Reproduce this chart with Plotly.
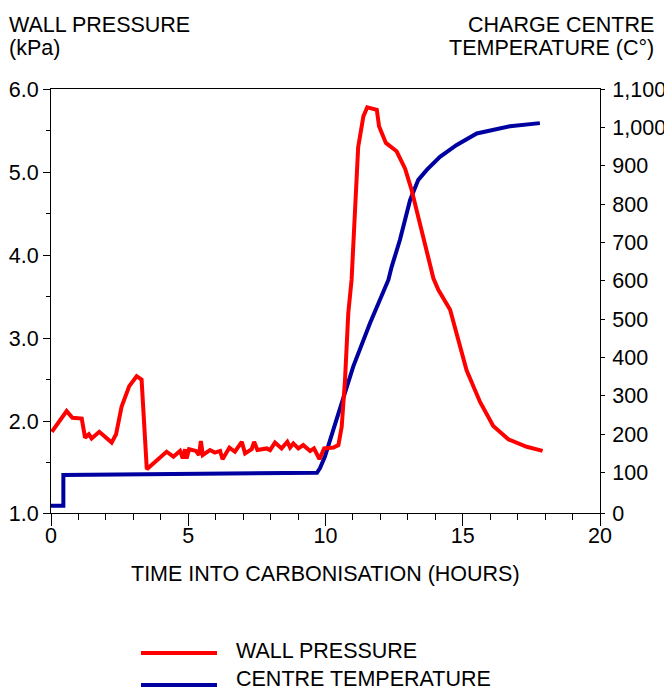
import plotly.graph_objects as go

# ---------------- data ----------------
press_time = [0.03, 0.57, 0.78, 1.12, 1.24, 1.38, 1.48, 1.76, 2.21, 2.37, 2.57, 2.85, 3.12, 3.30,
              3.49, 4.21, 4.46, 4.70, 4.80, 4.88, 4.94, 5.03, 5.28, 5.39, 5.46, 5.53, 5.79, 5.97,
              6.16, 6.25, 6.50, 6.70, 6.95, 7.07, 7.31, 7.40, 7.52, 7.86, 7.98, 8.16, 8.40, 8.61,
              8.71, 8.83, 9.01, 9.19, 9.44, 9.58, 9.78, 9.95, 10.29, 10.47, 10.59, 10.71, 10.83,
              10.95, 11.19, 11.38, 11.52, 11.87, 11.95, 12.20, 12.59, 12.90, 13.14, 13.44, 13.93,
              14.11, 14.54, 15.14, 15.63, 16.11, 16.66, 17.33, 17.91]
press_kpa = [1.87, 2.12, 2.04, 2.03, 1.80, 1.84, 1.79, 1.87, 1.74, 1.84, 2.17, 2.42, 2.54, 2.50,
             1.42, 1.63, 1.57, 1.64, 1.55, 1.66, 1.55, 1.66, 1.64, 1.59, 1.76, 1.59, 1.65, 1.62,
             1.64, 1.54, 1.68, 1.63, 1.75, 1.61, 1.66, 1.75, 1.65, 1.67, 1.65, 1.74, 1.67, 1.75,
             1.68, 1.73, 1.67, 1.71, 1.64, 1.67, 1.54, 1.67, 1.68, 1.71, 1.93, 2.49, 3.30,
             3.70, 5.30, 5.67, 5.78, 5.75, 5.55, 5.35, 5.25, 5.04, 4.78, 4.38, 3.72,
             3.58, 3.34, 2.61, 2.23, 1.94, 1.78, 1.69, 1.64]

temp_time = [0.0, 0.45, 0.45, 9.69, 9.80, 9.98, 10.28, 10.59, 11.01, 11.62, 12.29, 12.41, 12.71,
             13.08, 13.38, 13.69, 14.17, 14.78, 15.51, 16.72, 17.81]
temp_c = [13, 13, 93, 99, 111, 141, 210, 281, 376, 489, 602, 636, 706,
          810, 863, 889, 923, 954, 984, 1003, 1011]

x_tickvals = [0, 5, 10, 15, 20]
p_tickvals = [0.892, 2, 3, 4, 5, 6]
p_ticktext = ["1.0", "2.0", "3.0", "4.0", "5.0", "6.0"]
p_minorvals = [1.5, 2.5, 3.5, 4.5, 5.5]
t_tickvals = [-6, 100, 200, 300, 400, 500, 600, 700, 800, 900, 1000, 1100]
t_ticktext = ["0", "100", "200", "300", "400", "500", "600", "700", "800", "900", "1,000", "1,100"]

series_names = ["WALL PRESSURE", "CENTRE TEMPERATURE"]
series_colors = ["#ff0000", "#0000a0"]

FONT = "Liberation Sans, Arial, sans-serif"
FS = 21.5

fig = go.Figure()
fig.add_trace(go.Scatter(x=temp_time, y=temp_c, mode="lines", name=series_names[1],
                         line=dict(color=series_colors[1], width=4), yaxis="y", showlegend=False))
fig.add_trace(go.Scatter(x=press_time, y=press_kpa, mode="lines", name=series_names[0],
                         line=dict(color=series_colors[0], width=4), yaxis="y2", showlegend=False))

axis_common = dict(showline=True, linecolor="black", linewidth=1, showgrid=False, zeroline=False,
                   ticks="outside", tickcolor="black", tickwidth=1, automargin=False,
                   tickfont=dict(family=FONT, size=FS, color="black"))

fig.update_layout(
    width=664, height=688,
    margin=dict(l=51, r=64, t=89, b=175, autoexpand=False),
    paper_bgcolor="white", plot_bgcolor="white",
    font=dict(family=FONT, size=FS, color="black"),
    xaxis=dict(range=[0, 20], tickvals=x_tickvals, ticklen=12, mirror=True,
               ticklabelstandoff=-9,
               minor=dict(dtick=1, tick0=0, ticks="outside", ticklen=6, tickcolor="black",
                          tickwidth=1, showgrid=False),
               **axis_common),
    yaxis=dict(range=[-6, 1100], side="right", tickvals=t_tickvals, ticktext=t_ticktext,
               ticklen=4, ticklabelstandoff=3, **axis_common),
    yaxis2=dict(range=[0.892, 6.0], side="left", overlaying="y", tickvals=p_tickvals,
                ticktext=p_ticktext, ticklen=7,
                minor=dict(tickvals=p_minorvals, ticks="outside", ticklen=4, tickcolor="black",
                           tickwidth=1, showgrid=False),
                **axis_common),
)

def py(p):
    return (513 - p) / 424.0

def px(p):
    return (p - 51) / 549.0

ann = []
ann.append(dict(text="WALL PRESSURE", x=px(7), y=py(25), xanchor="left", yanchor="middle"))
ann.append(dict(text="(kPa)", x=px(7), y=py(48), xanchor="left", yanchor="middle"))
ann.append(dict(text="CHARGE CENTRE", x=px(656), y=py(25), xanchor="right", yanchor="middle"))
ann.append(dict(text="TEMPERATURE (C°)", x=px(656), y=py(48), xanchor="right", yanchor="middle"))
ann.append(dict(text="TIME INTO CARBONISATION (HOURS)", x=px(325), y=py(574),
                xanchor="center", yanchor="middle"))
ann.append(dict(text=series_names[0], x=px(234), y=py(651), xanchor="left", yanchor="middle"))
ann.append(dict(text=series_names[1], x=px(234), y=py(679), xanchor="left", yanchor="middle"))
for a in ann:
    a.update(xref="paper", yref="paper", showarrow=False,
             font=dict(family=FONT, size=FS, color="black"))
fig.update_layout(annotations=ann)

shapes = [
    dict(type="line", xref="paper", yref="paper", x0=px(141), x1=px(217), y0=py(653), y1=py(653),
         line=dict(color=series_colors[0], width=4)),
    dict(type="line", xref="paper", yref="paper", x0=px(141), x1=px(217), y0=py(685), y1=py(685),
         line=dict(color=series_colors[1], width=4)),
]
fig.update_layout(shapes=shapes)

# remove the page's default 8 px body margin so the 664x688 figure fills the window exactly
fig.write_html("out.html",
               config={"displayModeBar": False, "staticPlot": True},
               post_script="document.body.style.margin='0px';document.body.style.overflow='hidden';")
